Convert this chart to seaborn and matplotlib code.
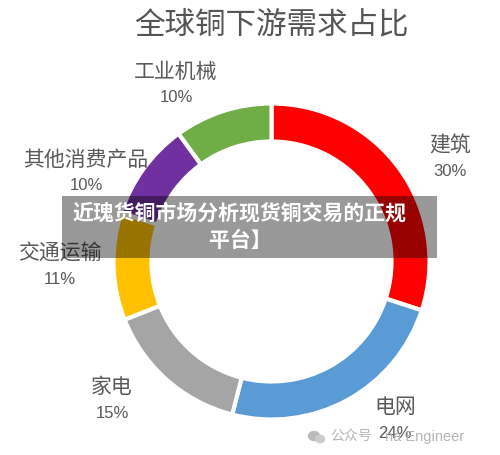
import matplotlib
matplotlib.use("Agg")
import matplotlib.pyplot as plt
import seaborn as sns
from matplotlib.patches import Rectangle, Ellipse

sns.set_theme(style="white")
plt.rcParams['font.family'] = ['Noto Sans CJK SC', 'DejaVu Sans']

title = "全球铜下游需求占比"
categories = ["建筑", "电网", "家电", "交通运输", "其他消费产品", "工业机械"]
values = [30, 24, 15, 11, 10, 10]
pct_labels = ["30%", "24%", "15%", "11%", "10%", "10%"]
colors = ["#FF0000", "#5B9BD5", "#A5A5A5", "#FFC000", "#7030A0", "#70AD47"]
banner_text = "近瑰货铜市场分析现货铜交易的正规\n平台】"

W, H = 500, 455
fig = plt.figure(figsize=(W / 100, H / 100), dpi=100)
ax = fig.add_axes([0, 0, 1, 1])

def Y(y):
    return H - y

cx, cy, R = 271.5, 261.5, 158
ax.pie(values, colors=colors, startangle=90, counterclock=False,
       center=(cx, Y(cy)), radius=R, frame=True,
       wedgeprops=dict(width=38, edgecolor="white", linewidth=3))
ax.set_xlim(0, W)
ax.set_ylim(0, H)
ax.set_aspect("equal")
ax.axis("off")

ax.text(271, Y(25), title, ha="center", va="center", fontsize=22, color="#555555")

label_pos = {
    "建筑": (450, 145),
    "电网": (395, 407),
    "家电": (112, 387),
    "交通运输": (60, 253),
    "其他消费产品": (86, 160),
    "工业机械": (176, 72),
}
for cat, pct in zip(categories, pct_labels):
    x, y = label_pos[cat]
    ax.text(x, Y(y), cat, ha="center", va="center", fontsize=15, color="#595959")
    ax.text(x, Y(y + 26), pct, ha="center", va="center", fontsize=12,
            color="#595959", family=["Liberation Sans", "DejaVu Sans"])

# watermark
ax.add_patch(Ellipse((314, Y(436)), 11, 9, color="#BBBBBB", zorder=3))
ax.add_patch(Ellipse((320, Y(439)), 9, 7.5, color="#CCCCCC", zorder=3))
ax.text(330, Y(437), "公众号", ha="left", va="center", fontsize=10, color="#B5B5B5")
ax.text(385, Y(437), "na Engineer", ha="left", va="center", fontsize=10.5,
        color="#B5B5B5", family=["Liberation Sans", "DejaVu Sans"])

# banner overlay
ax.add_patch(Rectangle((62, Y(258)), 375, 62, color="black", alpha=0.4, zorder=5, lw=0))
ax.text(240, Y(227), banner_text, ha="center", va="center", fontsize=15,
        fontweight="bold", color="white", linespacing=1.35, zorder=6)

fig.savefig("out.png", dpi=100)
